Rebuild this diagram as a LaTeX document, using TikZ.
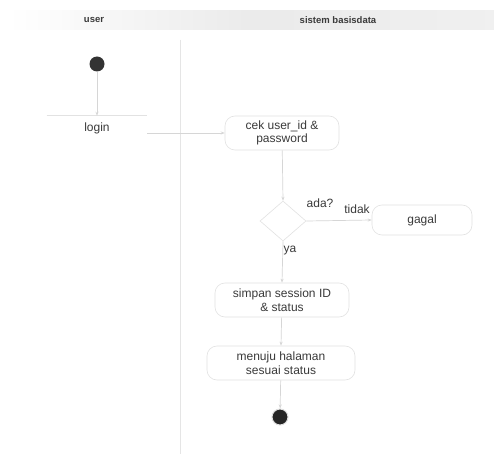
\documentclass[tikz,border=0pt]{standalone}
\usepackage{fontspec}
\setmainfont{Liberation Sans}
\usetikzlibrary{shapes.geometric,arrows.meta}
\definecolor{ln}{HTML}{D6D6D6}
\definecolor{bd}{HTML}{E2E2E2}
\definecolor{tx}{HTML}{3A3A3A}
\begin{document}
\begin{tikzpicture}[x=1pt,y=-1pt,
  act/.style={draw=bd,rounded corners=10pt,fill=white,text=tx,font=\fontsize{12}{13.5}\selectfont,align=center,line width=0.6pt},
  flow/.style={draw=ln,line width=0.7pt,-{Stealth[length=4pt,width=3pt]}},
  lbl/.style={text=tx,font=\fontsize{12}{13.5}\selectfont,inner sep=1pt},
  hdr/.style={text=tx,font=\bfseries\fontsize{9.5}{11}\selectfont}]
\useasboundingbox (0,0) rectangle (494,454);
\fill[white] (0,0) rectangle (494,454);
% header band
\shade[left color=white,right color=black!6,middle color=black!8] (8,11) rectangle (494,30);
\node[hdr] (hu) at (94,20) {user};
\node[hdr] (hs) at (338,20) {sistem basisdata};
% lane divider
\draw[draw=black!10,line width=0.6pt] (180,40) -- (180,454);
% nodes
\node[circle,fill=black!80,minimum size=15pt,inner sep=0pt] (start) at (97,64) {};
\node[act,draw=none,minimum width=100pt,minimum height=24pt] (login) at (97,128) {login};
\draw[draw=bd,line width=0.6pt] (login.north west) -- (login.north east);
\node[act,minimum width=114pt,minimum height=34pt] (cek) at (282,133) {cek user\_id \&\\password};
\node[diamond,draw=bd,fill=white,minimum width=46pt,minimum height=40pt,inner sep=0pt,line width=0.6pt] (dec) at (283,221) {};
\node[act,minimum width=100pt,minimum height=30pt] (gagal) at (422,220) {gagal};
\node[act,minimum width=134pt,minimum height=34pt] (simpan) at (282,300) {simpan session ID\\\& status};
\node[act,minimum width=148pt,minimum height=34pt] (menuju) at (281,363) {menuju halaman\\sesuai status};
\node[circle,fill=black!85,minimum size=16pt,inner sep=0pt,draw=black!12,line width=1pt] (end) at (280,417) {};
% connectors
\draw[flow] (start) -- (login.north);
\draw[flow] (login.east) ++(0,5) coordinate (le) -- (le -| cek.west);
\draw[flow] (cek) -- (dec.north);
\draw[flow] (dec.east) -- (gagal.west);
\draw[flow] (dec.south) -- (simpan.north);
\draw[flow] (simpan) -- (menuju.north);
\draw[flow] (menuju) -- (end);
% labels
\node[lbl] (ada) at (320,203) {ada?};
\node[lbl] (tidak) at (357,209) {tidak};
\node[lbl] (ya) at (290,251) {ya};
\end{tikzpicture}
\end{document}
